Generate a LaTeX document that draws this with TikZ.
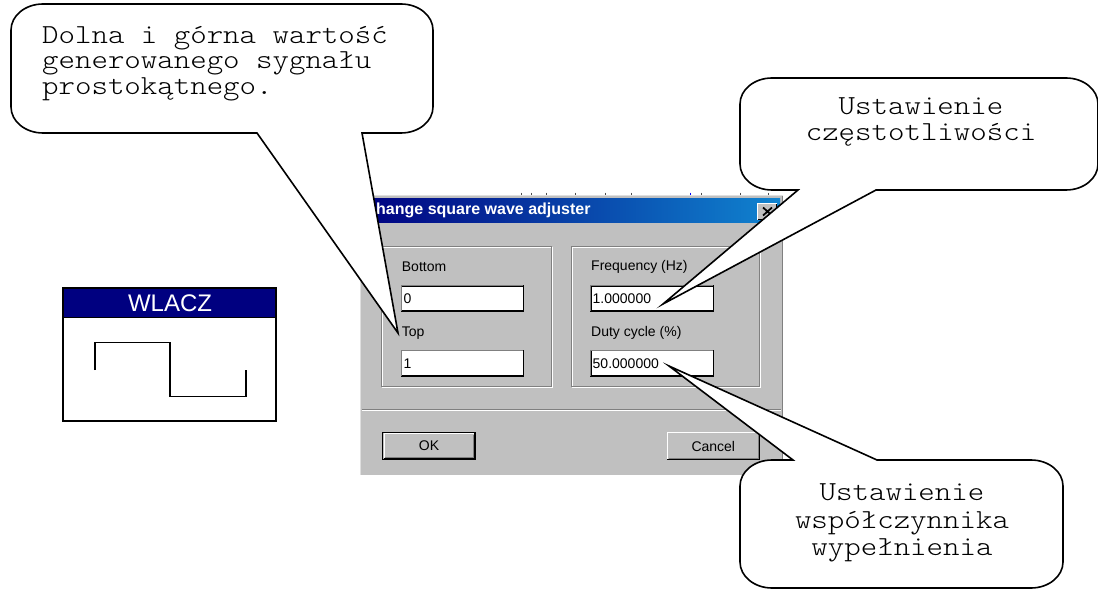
\documentclass[tikz,border=0pt]{standalone}
\usepackage{fontspec}
\newfontfamily\monofam{Latin Modern Mono Light}[FakeStretch=1.14]
\newfontfamily\sansfam{Liberation Sans}
\usetikzlibrary{calc}

\definecolor{wingray}{RGB}{192,192,192}
\definecolor{windark}{RGB}{128,128,128}
\definecolor{winnavy}{RGB}{0,0,128}
\definecolor{winblue}{RGB}{16,132,208}
\definecolor{framegray}{RGB}{223,223,223}

% corner radii of the speech balloons
\def\crx{32}
\def\cry{26}
\def\ck{0.448}

% balloon with its pointer leaving the bottom edge
% #1 left, #2 top, #3 right, #4 bottom, #5/#6 pointer base x, #7 pointer tip
\newcommand\balloonbelow[7]{%
  \path[balloon] (#7) -- (#6,#4) -- (#3-\crx,#4)
    .. controls (#3-\ck*\crx,#4) and (#3,#4-\ck*\cry) .. (#3,#4-\cry)
    -- (#3,#2+\cry) .. controls (#3,#2+\ck*\cry) and (#3-\ck*\crx,#2) .. (#3-\crx,#2)
    -- (#1+\crx,#2) .. controls (#1+\ck*\crx,#2) and (#1,#2+\ck*\cry) .. (#1,#2+\cry)
    -- (#1,#4-\cry) .. controls (#1,#4-\ck*\cry) and (#1+\ck*\crx,#4) .. (#1+\crx,#4)
    -- (#5,#4) -- cycle;}

% balloon with its pointer leaving the top edge
\newcommand\balloonabove[7]{%
  \path[balloon] (#7) -- (#5,#2) -- (#1+\crx,#2)
    .. controls (#1+\ck*\crx,#2) and (#1,#2+\ck*\cry) .. (#1,#2+\cry)
    -- (#1,#4-\cry) .. controls (#1,#4-\ck*\cry) and (#1+\ck*\crx,#4) .. (#1+\crx,#4)
    -- (#3-\crx,#4) .. controls (#3-\ck*\crx,#4) and (#3,#4-\ck*\cry) .. (#3,#4-\cry)
    -- (#3,#2+\cry) .. controls (#3,#2+\ck*\cry) and (#3-\ck*\crx,#2) .. (#3-\crx,#2)
    -- (#6,#2) -- cycle;}

\begin{document}
\begin{tikzpicture}[x=1pt,y=-1pt,
  balloon/.style={draw=black, line width=1.6pt, fill=white, line join=miter},
  btext/.style={inner sep=0pt, anchor=base, font=\monofam\fontsize{27.5}{27}\selectfont},
  btextl/.style={btext, anchor=base west},
  label/.style={inner sep=0pt, anchor=west, font=\sansfam\fontsize{14}{16}\selectfont},
  editbox/.style={draw=black, line width=1.1pt, fill=white},
  etch/.style={draw=windark, line width=1pt},
  etchlight/.style={draw=white, line width=1pt},
  tick/.style={draw=black!70, line width=1pt},
]
\useasboundingbox (0,0) rectangle (1098,591);
\fill[white] (0,0) rectangle (1098,591);

% ---------- WLACZ block ----------
\fill[winnavy] (63.3,288.3) rectangle (276,317.3);
\draw[line width=2pt] (63.3,288.3) rectangle (276,420.7);
\draw[line width=1pt] (63.3,317.3) -- (276,317.3);
\node[inner sep=0pt, text=white, font=\sansfam\fontsize{24}{26}\selectfont] (wlacz) at (170,303.5) {WLACZ};
\draw[line width=1.3pt] (95,370) -- (95,342.3) -- (170,342.3) -- (170,396.7) -- (246,396.7) -- (246,370);

% ---------- dialog window ----------
\fill[wingray] (360,196) rectangle (783,475);
\draw[framegray, line width=1pt] (360,195.5) -- (783,195.5);
\draw[framegray, line width=1pt] (360.5,196) -- (360.5,475);
\draw[windark, line width=1pt] (782.5,196) -- (782.5,475);
\foreach \tx in {521.7,531.7,546.7,575,605,631.7,701.7,740,768}
  \draw[tick] (\tx,192.5) -- (\tx,194.5);
\draw[blue, line width=1pt] (690,192.5) -- (690,194.5);

% title bar
\shade[left color=winnavy, right color=winblue] (360,198) rectangle (780,222);
\node[inner sep=0pt, anchor=west, text=white, font=\sansfam\bfseries\fontsize{16}{18}\selectfont] (title) at (376,210.5) {hange square wave adjuster};
% close button
\fill[wingray] (757,203) rectangle (777,220);
\draw[white, line width=1pt] (757.5,219.5) -- (757.5,203.5) -- (776.5,203.5);
\draw[black, line width=1pt] (757.5,219.5) -- (776.5,219.5) -- (776.5,203.5);
\draw[line width=1.7pt] (763,207.5) -- (772,215.5) (772,207.5) -- (763,215.5);

% group boxes
\draw[etchlight] (382.5,247.5) rectangle (552.5,387.5);
\draw[etch] (381.5,246.5) rectangle (551.5,386.5);
\draw[etchlight] (572.5,247.5) rectangle (760.5,387.5);
\draw[etch] (571.5,246.5) rectangle (759.5,386.5);

% labels and edit fields
\node[label] (lbottom) at (401.7,267) {Bottom};
\node[label] (ltop) at (401.7,332.7) {Top};
\node[label] (lfreq) at (591,267) {Frequency (Hz)};
\node[label] (lduty) at (591,332.7) {Duty cycle (\%)};

\draw[editbox] (401.7,286) rectangle (523.3,311);
\draw[editbox] (401.7,350.7) rectangle (523.3,376);
\draw[editbox] (591,286) rectangle (713.3,311);
\draw[editbox] (591,350.7) rectangle (713.3,376);
\draw[windark, line width=1pt] (401.2,311) -- (401.2,285.5) -- (523.3,285.5);
\draw[windark, line width=1pt] (401.2,376) -- (401.2,350.2) -- (523.3,350.2);
\draw[windark, line width=1pt] (590.5,311) -- (590.5,285.5) -- (713.3,285.5);
\draw[windark, line width=1pt] (590.5,376) -- (590.5,350.2) -- (713.3,350.2);
\node[label] (vbottom) at (403.5,298.5) {0};
\node[label] (vtop) at (403.5,363.3) {1};
\node[label] (vfreq) at (592.5,298.5) {1.000000};
\node[label] (vduty) at (592.5,363.3) {50.000000};

% separator
\draw[windark, line width=1pt] (362,409.5) -- (781,409.5);
\draw[white, line width=1pt] (362,410.5) -- (781,410.5);

% OK (default) button
\draw[black, line width=1pt, fill=wingray] (382.8,432.2) rectangle (475.2,459.5);
\draw[white, line width=1pt] (384,458) -- (384,433.7) -- (473.5,433.7);
\draw[black, line width=1.5pt] (383.5,458.5) -- (474.5,458.5) -- (474.5,433);
\draw[windark, line width=1pt] (385,457) -- (473,457) -- (473,435);
\node[inner sep=0pt, font=\sansfam\fontsize{14}{16}\selectfont] (ok) at (429,446) {OK};

% Cancel button
\fill[wingray] (666.7,431.7) rectangle (760,460);
\draw[white, line width=1pt] (667.2,459.5) -- (667.2,432.2) -- (759.5,432.2);
\draw[black, line width=1pt] (667.2,459.5) -- (759.5,459.5) -- (759.5,432.2);
\draw[windark, line width=1pt] (668.5,458.3) -- (758.3,458.3) -- (758.3,433.5);
\node[inner sep=0pt, font=\sansfam\fontsize{14}{16}\selectfont] (cancel) at (713.3,446) {Cancel};

% ---------- speech balloons ----------
\coordinate (tipTop) at (398,333);
\coordinate (tipFreq) at (663,304);
\coordinate (tipDuty) at (669,366);

\balloonbelow{11}{4}{433}{133}{257}{362}{tipTop}
\balloonbelow{740}{78}{1098}{190}{798}{876}{tipFreq}
\balloonabove{740}{460}{1063}{588}{793}{877}{tipDuty}

\node[btextl] (b1a) at (42,43.5) {Dolna i górna wartość};
\node[btextl] (b1b) at (42,69) {generowanego sygnału};
\node[btextl] (b1c) at (42,94.5) {prostokątnego.};

\node[btext] (b2a) at (921,114.5) {Ustawienie};
\node[btext] (b2b) at (921,141) {częstotliwości};

\node[btext] (b3a) at (902,500) {Ustawienie};
\node[btext] (b3b) at (902,528) {współczynnika};
\node[btext] (b3c) at (902,555) {wypełnienia};
\end{tikzpicture}
\end{document}
